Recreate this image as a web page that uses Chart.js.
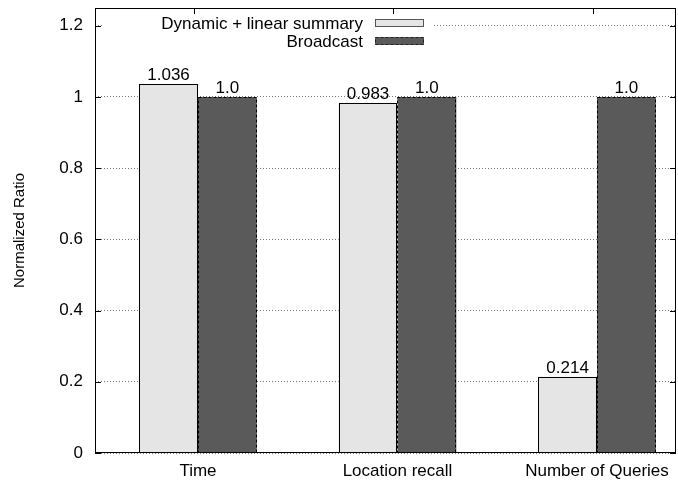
<!DOCTYPE html>
<html>
<head>
<meta charset="utf-8">
<script src="https://cdn.jsdelivr.net/npm/chart.js@4.4.1/dist/chart.umd.min.js"></script>
<style>
  html, body { margin: 0; padding: 0; background: #fff; }
  #wrap { width: 678px; height: 482px; position: relative; }
</style>
</head>
<body>
<div id="wrap"><canvas id="chart"></canvas></div>
<script>
// data
const categories = ['Time', 'Location recall', 'Number of Queries'];
const dynamicVals = [1.036, 0.983, 0.214];
const broadcastVals = [1.0, 1.0, 1.0];
const dynamicLabels = ['1.036', '0.983', '0.214'];
const broadcastLabels = ['1.0', '1.0', '1.0'];
const seriesNames = ['Dynamic + linear summary', 'Broadcast'];
const yTicks = [0, 0.2, 0.4, 0.6, 0.8, 1, 1.2];

const FONT = '"Liberation Sans", Arial, Helvetica, sans-serif';
const LIGHT = '#e5e5e5';
const DARK = '#5a5a5a';

// bar outlines (solid / dashed) + value labels above bars
const barDecor = {
  id: 'barDecor',
  afterDatasetsDraw(chart) {
    const ctx = chart.ctx;
    const labelSets = [dynamicLabels, broadcastLabels];
    chart.data.datasets.forEach((ds, di) => {
      const meta = chart.getDatasetMeta(di);
      meta.data.forEach((bar, i) => {
        const l = Math.round(bar.x - bar.width / 2) + 0.5;
        const r = Math.round(bar.x + bar.width / 2) - 0.5;
        const t = Math.round(bar.y) + 0.5;
        const b = Math.round(bar.base) - 0.5;
        ctx.save();
        ctx.strokeStyle = '#000';
        ctx.lineWidth = 1;
        ctx.setLineDash(di === 1 ? [3, 2] : []);
        ctx.strokeRect(l, t, r - l, b - t);
        ctx.restore();

        ctx.save();
        ctx.fillStyle = '#000';
        ctx.font = '17px ' + FONT;
        ctx.textAlign = 'center';
        ctx.textBaseline = 'alphabetic';
        ctx.fillText(labelSets[di][i], bar.x, bar.y - 4);
        ctx.restore();
      });
    });
  }
};

// gnuplot-like frame with inward ticks
const frame = {
  id: 'frame',
  afterDatasetsDraw(chart) {
    const { ctx, chartArea: a, scales } = chart;
    ctx.save();
    ctx.strokeStyle = '#000';
    ctx.lineWidth = 1;
    ctx.strokeRect(Math.round(a.left) + 0.5, Math.round(a.top) + 0.5,
      Math.round(a.right - a.left) - 1, Math.round(a.bottom - a.top) - 1);
    ctx.beginPath();
    yTicks.forEach(v => {
      const y = Math.round(scales.y.getPixelForValue(v)) + 0.5;
      ctx.moveTo(a.left, y); ctx.lineTo(a.left + 6, y);
      ctx.moveTo(a.right, y); ctx.lineTo(a.right - 6, y);
    });
    categories.forEach((c, i) => {
      const x = Math.round(scales.x.getPixelForValue(i)) - 3.5;
      ctx.moveTo(x, a.top); ctx.lineTo(x, a.top + 6);
    });
    ctx.stroke();
    ctx.restore();
  }
};

// key in the top-left, text right-aligned with sample box on its right
const keyBox = {
  id: 'keyBox',
  beforeDatasetsDraw(chart) {
    const ctx = chart.ctx;
    ctx.save();
    ctx.fillStyle = '#fff';
    ctx.fillRect(104, 15, 330, 36);
    ctx.restore();
  },
  afterDatasetsDraw(chart) {
    const ctx = chart.ctx;
    const rows = [23, 41];
    ctx.save();
    ctx.font = '17px ' + FONT;
    ctx.textAlign = 'right';
    ctx.textBaseline = 'middle';
    seriesNames.forEach((name, i) => {
      ctx.fillStyle = '#000';
      ctx.fillText(name, 363, rows[i] + 1);
      ctx.fillStyle = i === 0 ? LIGHT : DARK;
      ctx.fillRect(375, rows[i] - 4, 49, 8);
      ctx.strokeStyle = i === 0 ? '#555' : '#222';
      ctx.setLineDash(i === 1 ? [3, 2] : []);
      ctx.strokeRect(375.5, rows[i] - 3.5, 48, 7);
    });
    ctx.restore();
  }
};

new Chart(document.getElementById('chart'), {
  type: 'bar',
  data: {
    datasets: [
      {
        label: seriesNames[0],
        data: dynamicVals.map((v, i) => ({ x: i, y: v })),
        backgroundColor: LIGHT,
        borderWidth: 0
      },
      {
        label: seriesNames[1],
        data: broadcastVals.map((v, i) => ({ x: i, y: v })),
        backgroundColor: DARK,
        borderWidth: 0
      }
    ]
  },
  options: {
    responsive: true,
    maintainAspectRatio: false,
    animation: false,
    categoryPercentage: 0.59,
    barPercentage: 1.0,
    layout: { padding: { top: 8, right: 2, left: 0, bottom: 0 } },
    plugins: { legend: { display: false }, tooltip: { enabled: false } },
    scales: {
      x: {
        type: 'linear',
        offset: false,
        min: -0.516,
        max: 2.396,
        afterBuildTicks: s => { s.ticks = categories.map((c, i) => ({ value: i })); },
        afterFit: s => { s.height = 29; s.paddingLeft = 0; s.paddingRight = 0; },
        grid: { display: false, drawTicks: false },
        border: { display: false },
        ticks: {
          autoSkip: false,
          maxRotation: 0,
          padding: 8,
          color: '#000',
          font: { family: FONT, size: 17 },
          callback: v => categories[v]
        }
      },
      y: {
        min: 0,
        max: 1.25,
        afterBuildTicks: s => { s.ticks = yTicks.map(v => ({ value: v })); },
        afterFit: s => { s.width = 95; s.paddingTop = 0; s.paddingBottom = 0; },
        grid: { color: '#777', drawTicks: false },
        border: { display: false, dash: [1, 2] },
        ticks: {
          padding: 12,
          color: '#000',
          font: { family: FONT, size: 17 },
          callback: v => String(v)
        },
        title: {
          display: true,
          text: 'Normalized Ratio',
          color: '#000',
          font: { family: FONT, size: 15 },
          padding: { top: 11, bottom: 0 }
        }
      }
    }
  },
  plugins: [keyBox, barDecor, frame]
});
</script>
</body>
</html>
